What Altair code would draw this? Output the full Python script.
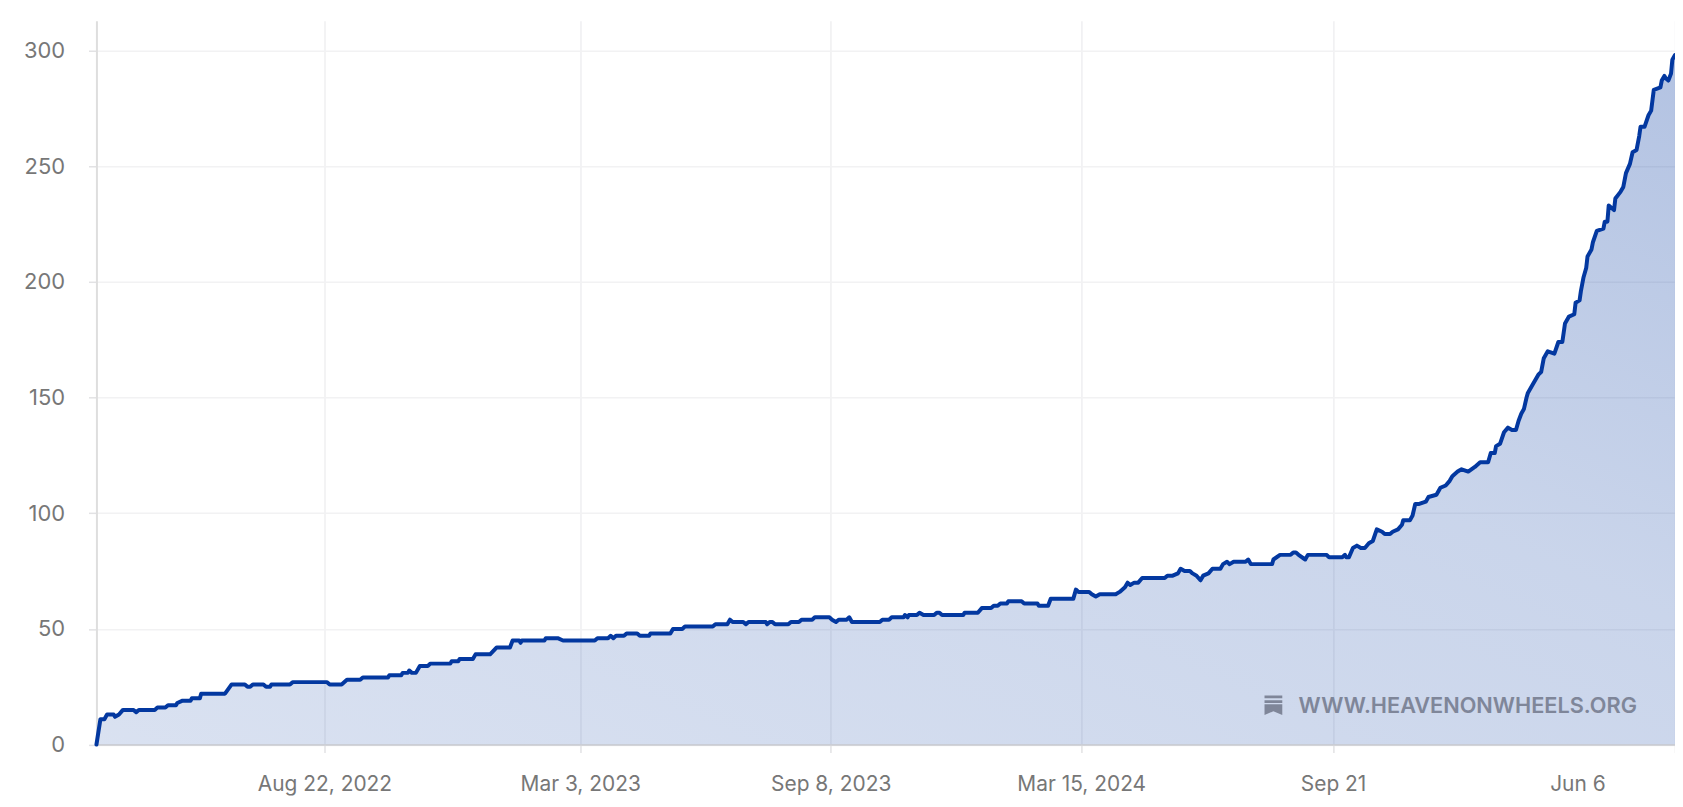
import datetime as dt
import altair as alt
import pandas as pd

START = dt.datetime(2022, 3, 3)
END = dt.datetime(2025, 6, 6)

days = [0,3,6,8,13,14,17,20,28,30,32,44,46,52,54,60,61,65,71,72,78,79,97,102,112,114,116,118,126,128,131,132,146,148,174,176,185,189,199,201,220,221,230,231,235,236,238,241,244,250,252,267,268,273,274,284,286,297,302,312,314,319,320,321,338,339,
348,352,376,378,386,388,390,392,398,400,408,410,417,418,433,435,442,444,465,467,476,478,480,488,490,492,505,506,508,510,512,522,524,530,532,540,542,553,555,558,560,566,568,570,591,593,598,600,609,610,612,613,619,621,624,632,634,636,638,654,655,665,668,675,677,680,682,687,688,698,700,710,711,718,720,737,739,741,749,751,754,757,769,772,776,778,780,783,786,789,
806,808,812,816,818,821,825,827,830,833,835,839,842,848,850,853,855,858,867,869,871,887,888,893,901,903,905,907,912,914,928,930,940,942,943,945,948,951,954,957,960,963,966,970,972,976,978,982,985,986,991,993,995,998,1003,1005,1011,1014,1018,1021,1023,1027,1030,1035,1040,1044,1048,1050,1052,1055,1056,1059,1062,1065,1068,1071,1073,1075,1077,1079,1080,1083,1088,1090,1092,1095,1100,1103,1106,1108,1111,1115,1116,1119,1120,1122,1124,1125,1128,1129,1132,1137,1138,1140,1141,1145,1146,1150,1152,1154,1157,1159,1162,1164,1165,1168,1171,1173,1175,1180,1181,1183,1184,1186,1188,1189,1191]
values = [0,11,11,13,13,12,13,15,15,14,15,15,16,16,17,17,18,19,19,20,20,22,22,26,26,25,25,26,26,25,25,26,26,27,27,26,26,28,28,29,29,30,30,31,31,32,31,31,34,34,35,35,36,36,37,37,39,39,42,42,45,45,44,45,45,46,
46,45,45,46,46,47,46,47,47,48,48,47,47,48,48,50,50,51,51,52,52,54,53,53,52,53,53,52,53,53,52,52,53,53,54,54,55,55,54,53,54,54,55,53,53,54,54,55,55,56,55,56,56,57,56,56,57,57,56,56,57,57,59,59,60,60,61,61,62,62,61,61,60,60,63,63,67,66,66,65,64,65,65,66,68,70,69,70,70,72,
72,73,73,74,76,75,75,74,73,71,73,74,76,76,78,79,78,79,79,80,78,78,80,82,82,83,83,82,80,82,82,81,81,82,81,81,85,86,85,85,87,88,93,92,91,91,92,93,95,97,97,99,104,104,105,107,108,111,112,114,116,118,119,118,120,122,122,122,126,126,129,130,135,137,136,136,140,143,145,150,152,155,160,161,167,170,169,174,174,182,185,186,191,192,196,202,206,211,214,217,222,223,226,226,233,231,236,239,241,247,251,256,257,263,267,267,272,274,283,284,287,289,288,287,290,296,298]

n = min(len(days), len(values))
dates = [START + dt.timedelta(days=d) for d in days[:n]]

tick_dates = [dt.datetime(2022,8,22), dt.datetime(2023,3,3), dt.datetime(2023,9,8),
              dt.datetime(2024,3,15), dt.datetime(2024,9,21), dt.datetime(2025,6,6)]
tick_labels = ["Aug 22, 2022", "Mar 3, 2023", "Sep 8, 2023", "Mar 15, 2024", "Sep 21", "Jun 6"]
y_ticks = [0, 50, 100, 150, 200, 250, 300]

def ms(d):
    return int(d.replace(tzinfo=dt.timezone.utc).timestamp() * 1000)

tick_ms = [ms(d) for d in tick_dates]
label_expr = f"{tick_labels}[indexof({tick_ms}, +datum.value)]"

df = pd.DataFrame({"date": [d.strftime("%Y-%m-%dT00:00:00Z") for d in dates], "value": values[:n]})

FONT = "Inter"
LINE = "#0338a0"
x_scale = alt.Scale(type="utc", domain=[ms(START), ms(END)])
y_scale = alt.Scale(domain=[0, 312.8], nice=False)

x_axis = alt.Axis(
    values=tick_ms, labelExpr=label_expr, title=None, grid=True,
    gridColor="#efeff1", gridWidth=1.5, tickColor="#e2e2e4", tickWidth=1.5, tickSize=8,
    domainColor="#d3d4d8", domainWidth=2, labelColor="#777777", labelFont=FONT,
    labelFontSize=21, labelPadding=21, labelOverlap=False, labelFlush=False, labelBound=False,
    labelOffset={"condition": {"test": f"datum.value >= {tick_ms[-1]}", "value": -98}, "value": 0},
)
y_axis = alt.Axis(
    values=y_ticks, title=None, grid=True, gridColor="#f2f2f3", gridWidth=1.5,
    tickColor="#e2e2e4", tickWidth=1.5, tickSize=8, domainColor="#dedede", domainWidth=2,
    labelColor="#777777", labelFont=FONT, labelFontSize=22, labelPadding=24,
)

x = alt.X("date:T", scale=x_scale, axis=x_axis)
y = alt.Y("value:Q", scale=y_scale, axis=y_axis)

gradient = alt.Gradient(
    gradient="linear", x1=0, y1=1, x2=1, y2=0,
    stops=[alt.GradientStop(color="rgba(3,56,160,0.15)", offset=0),
           alt.GradientStop(color="rgba(3,56,160,0.21)", offset=0.6),
           alt.GradientStop(color="rgba(3,56,160,0.30)", offset=1)],
)

area = alt.Chart(df).mark_area(color=gradient, clip=True).encode(x=x, y=y)
line = alt.Chart(df).mark_line(color=LINE, strokeWidth=4, strokeJoin="round", strokeCap="round").encode(x=x, y=y)

wm_text = ["WWW.HEAVENONWHEELS.ORG"]
wm_day = [907]
wm_val = [16.8]
icon_day = [888]
icon_val = [17]

wm_df = pd.DataFrame({
    "date": [(START + dt.timedelta(days=d)).strftime("%Y-%m-%dT00:00:00Z") for d in wm_day],
    "value": wm_val, "text": wm_text})
icon_df = pd.DataFrame({
    "date": [(START + dt.timedelta(days=d)).strftime("%Y-%m-%dT00:00:00Z") for d in icon_day],
    "value": icon_val})

watermark = alt.Chart(wm_df).mark_text(
    align="left", baseline="middle", font=FONT, fontSize=21.8, fontWeight=600, color="#7f8699"
).encode(x=alt.X("date:T", scale=x_scale), y=alt.Y("value:Q", scale=y_scale), text="text:N")

ICON = ("M-0.92,-1 H0.92 V-0.72 H-0.92 Z M-0.92,-0.52 H0.92 V-0.24 H-0.92 Z "
        "M-0.92,-0.1 H0.92 V1 L0,0.62 L-0.92,1 Z")
icon = alt.Chart(icon_df).mark_point(
    shape=ICON, size=376, filled=True, opacity=1, color="#7f8699", strokeWidth=0
).encode(x=alt.X("date:T", scale=x_scale), y=alt.Y("value:Q", scale=y_scale))

chart = (
    alt.layer(area, line, icon, watermark)
    .properties(
        width=1585, height=726.7,
        padding={"left": 88.8, "top": 11.3, "right": 0, "bottom": 50},
        autosize=alt.AutoSizeParams(type="none"),
        background="white",
    )
    .configure_view(stroke=None)
)

chart.save("out.html", embed_options={"renderer": "svg", "actions": False})
